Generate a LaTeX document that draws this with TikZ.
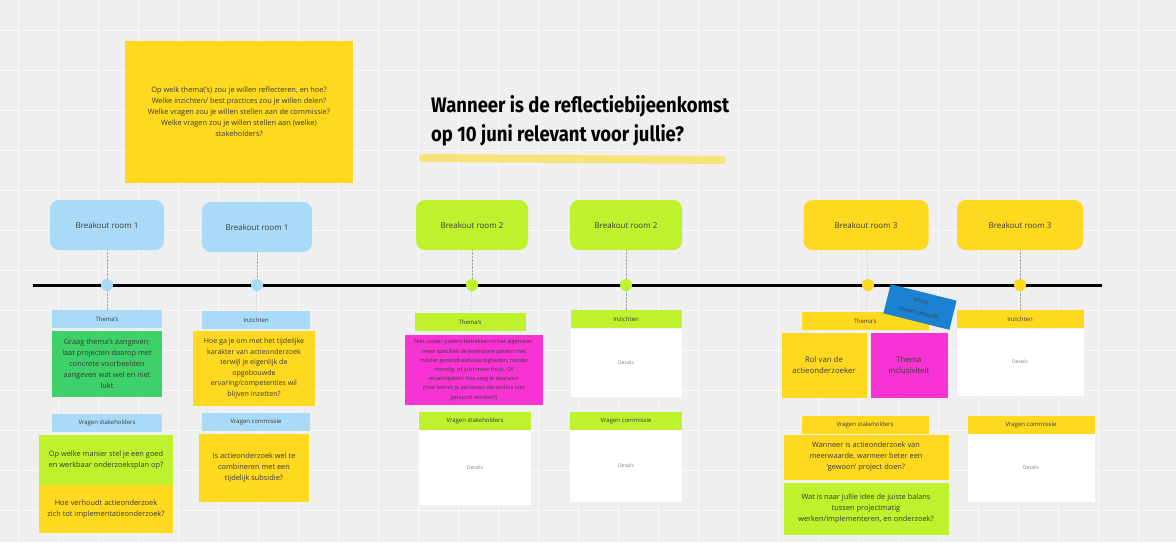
\documentclass[tikz,border=0pt]{standalone}
\usepackage{fontspec}
\setmainfont{Open Sans}
\newfontfamily\titlefont[FakeStretch=0.88]{Fira Sans}
\usepackage{xcolor}
\definecolor{boardgray}{HTML}{EFEFEF}
\definecolor{roomblue}{HTML}{A9DBF8}
\definecolor{roomlime}{HTML}{BEF22C}
\definecolor{roomyellow}{HTML}{FFD91F}
\definecolor{notegreen}{HTML}{3FD169}
\definecolor{notepink}{HTML}{F833D4}
\definecolor{noteblue}{HTML}{1B82D1}
\definecolor{markyellow}{HTML}{F8E27A}
\definecolor{inkgray}{HTML}{3A3A3A}
\tikzset{
  room/.style={rounded corners=9pt, minimum width=112pt, minimum height=50pt,
    font=\fontsize{8}{9}\selectfont, text=inkgray},
  dot/.style={circle, minimum size=12pt, inner sep=0pt},
  header/.style={minimum width=110pt, minimum height=18pt, inner sep=0pt,
    font=\fontsize{6}{7}\selectfont, text=inkgray},
  note/.style={align=center, inner sep=0pt,
    font=\fontsize{7.4}{11}\selectfont, text=inkgray},
  details/.style={fill=white, inner sep=0pt, font=\fontsize{5}{6}\selectfont, text=gray},
  stem/.style={draw=gray!70, densely dotted, thin},
}

\begin{document}
\begin{tikzpicture}[x=1pt,y=-1pt]
  \useasboundingbox (0,0) rectangle (1176,542);
  % board
  \fill[boardgray] (0,0) rectangle (1176,542);
  \foreach \gx in {18,58,...,1176}
    \draw[white!60!boardgray, line width=0.8pt] (\gx,0) -- (\gx,542);
  \foreach \gy in {30,70,...,542}
    \draw[white!60!boardgray, line width=0.8pt] (0,\gy) -- (1176,\gy);

  % prompt and title
  \node[note, fill=roomyellow, minimum width=228pt, minimum height=142pt]
    (prompt) at (239,112) {Op welk thema('s) zou je willen reflecteren, en hoe?\\
    Welke inzichten/ best practices zou je willen delen?\\
    Welke vragen zou je willen stellen aan de commissie?\\
    Welke vragen zou je willen stellen aan (welke)\\ stakeholders?};
  \coordinate (mark a) at (423,158);
  \coordinate (mark b) at (722,160);
  \draw[markyellow, line width=8pt, line cap=round] (mark a) -- (mark b);
  \node[anchor=west, align=left, inner sep=0pt,
    font=\titlefont\bfseries\fontsize{21}{29}\selectfont]
    (title) at (431,121) {Wanneer is de reflectiebijeenkomst\\op 10 juni relevant voor jullie?};

  % timeline
  \coordinate (tl start) at (33,285);
  \coordinate (tl end) at (1102,285);
  \draw[line width=3pt] (tl start) -- (tl end);

  % breakout room 1 (a)
  \node[room, fill=roomblue, minimum width=114pt] (room1a) at (107,225) {Breakout room 1};
  \node[dot, fill=roomblue] (dot1a) at (107,285) {};
  \node[header, fill=roomblue] (th1a) at (107,319) {Thema's};
  \node[note, fill=notegreen, minimum width=110pt, minimum height=66pt] (n1a) at (107,364)
    {Graag thema's aangeven;\\laat projecten daarop met\\concrete voorbeelden\\aangeven wat wel en niet\\lukt};
  \node[header, fill=roomblue] (vs1a) at (107,423) {Vragen stakeholders};
  \node[note, fill=roomlime, minimum width=134pt, minimum height=51pt] (n1b) at (106,460)
    {Op welke manier stel je een goed\\en werkbaar onderzoeksplan op?};
  \node[note, fill=roomyellow, minimum width=134pt, minimum height=48pt] (n1c) at (106,509)
    {Hoe verhoudt actieonderzoek\\zich tot implementatieonderzoek?};
  \draw[stem] (room1a) -- (dot1a);
  \draw[stem] (dot1a) -- (th1a);

  % breakout room 1 (b)
  \node[room, fill=roomblue, minimum width=110pt] (room1b) at (257,227) {Breakout room 1};
  \node[dot, fill=roomblue] (dot1b) at (257,285) {};
  \node[header, fill=roomblue, minimum width=108pt] (in1b) at (256,320) {Inzichten};
  \node[note, fill=roomyellow, minimum width=122pt, minimum height=75pt,
    font=\fontsize{7.1}{10.5}\selectfont] (n1d) at (254,368)
    {Hoe ga je om met het tijdelijke\\karakter van actieonderzoek\\terwijl je eigenlijk de\\opgebouwde\\ervaring/competenties wil\\blijven inzetten?};
  \node[header, fill=roomblue, minimum width=108pt] (vc1b) at (256,422) {Vragen commissie};
  \node[note, fill=roomyellow, minimum width=110pt, minimum height=68pt] (n1e) at (254,468)
    {Is actieonderzoek wel te\\combineren met een\\tijdelijk subsidie?};
  \draw[stem] (room1b) -- (dot1b);
  \draw[stem] (dot1b) -- (in1b);

  % breakout room 2 (a)
  \node[room, fill=roomlime] (room2a) at (472,225) {Breakout room 2};
  \node[dot, fill=roomlime] (dot2a) at (472,285) {};
  \node[header, fill=roomlime, minimum width=111pt] (th2a) at (470,322) {Thema's};
  \node[note, fill=notepink, minimum width=138pt, minimum height=70pt,
    font=\fontsize{5.5}{9.2}\selectfont] (n2a) at (474,370)
    {Niet zozeer patiënt betrekken in het algemeen,\\meer specifiek de kwetsbare patiënt met\\minder gezondheidsvaardigheden, minder\\mondig, of juist meer thuis. Of\\emancipatoir; hoe zorg je daarvoor\\(Hoe betrek je personen die anders niet\\gehoord worden?)};
  \node[header, fill=roomlime, minimum width=112pt] (vs2a) at (475,421) {Vragen stakeholders};
  \node[details, minimum width=112pt, minimum height=74pt] (d2a) at (475,468) {Details};
  \draw[stem] (room2a) -- (dot2a);
  \draw[stem] (dot2a) -- (th2a);

  % breakout room 2 (b)
  \node[room, fill=roomlime] (room2b) at (626,225) {Breakout room 2};
  \node[dot, fill=roomlime] (dot2b) at (626,285) {};
  \node[header, fill=roomlime, minimum width=111pt] (in2b) at (626,319) {Inzichten};
  \node[details, minimum width=111pt, minimum height=68pt] (d2b) at (626,363) {Details};
  \node[header, fill=roomlime, minimum width=112pt] (vc2b) at (626,421) {Vragen commissie};
  \node[details, minimum width=112pt, minimum height=72pt] (d2c) at (626,466) {Details};
  \draw[stem] (room2b) -- (dot2b);
  \draw[stem] (dot2b) -- (in2b);

  % breakout room 3 (a)
  \node[room, fill=roomyellow, minimum width=125pt] (room3a) at (866,225) {Breakout room 3};
  \node[dot, fill=roomyellow] (dot3a) at (868,285) {};
  \node[header, fill=roomyellow, minimum width=127pt] (th3a) at (865,321) {Thema's};
  \node[note, fill=roomyellow, minimum width=85pt, minimum height=65pt,
    font=\fontsize{7.8}{11}\selectfont] (n3a) at (824,365) {Rol van de\\actieonderzoeker};
  \node[note, fill=notepink, minimum width=77pt, minimum height=65pt,
    font=\fontsize{7.8}{11}\selectfont] (n3b) at (909,365) {Thema\\inclusiviteit};
  \node[header, fill=roomyellow, minimum width=127pt] (vs3a) at (865,425) {Vragen stakeholders};
  \node[note, fill=roomyellow, minimum width=165pt, minimum height=45pt] (n3c) at (866,457)
    {Wanneer is actieonderzoek van\\meerwaarde, wanneer beter een\\`gewoon' project doen?};
  \node[note, fill=roomlime, minimum width=165pt, minimum height=52pt] (n3d) at (866,509)
    {Wat is naar jullie idee de juiste balans\\tussen projectmatig\\werken/implementeren, en onderzoek?};
  \draw[stem] (room3a) -- (dot3a);
  \draw[stem] (dot3a) -- (th3a);

  % breakout room 3 (b)
  \node[room, fill=roomyellow, minimum width=126pt] (room3b) at (1020,225) {Breakout room 3};
  \node[dot, fill=roomyellow] (dot3b) at (1020,285) {};
  \node[header, fill=roomyellow, minimum width=127pt] (in3b) at (1020,319) {Inzichten};
  \node[details, minimum width=127pt, minimum height=67pt] (d3b) at (1020,362) {Details};
  \node[header, fill=roomyellow, minimum width=127pt] (vc3b) at (1031,425) {Vragen commissie};
  \node[details, minimum width=127pt, minimum height=68pt] (d3c) at (1031,468) {Details};
  \draw[stem] (room3b) -- (dot3b);
  \draw[stem] (dot3b) -- (in3b);

  % format sticker
  \node[fill=noteblue, rotate=-14, align=center, minimum width=68pt, minimum height=30pt,
    inner sep=1pt, font=\fontsize{5.6}{12}\selectfont, text=inkgray]
    (vorm) at (920,307) {Vorm:\\conversatiecafe};
\end{tikzpicture}
\end{document}
